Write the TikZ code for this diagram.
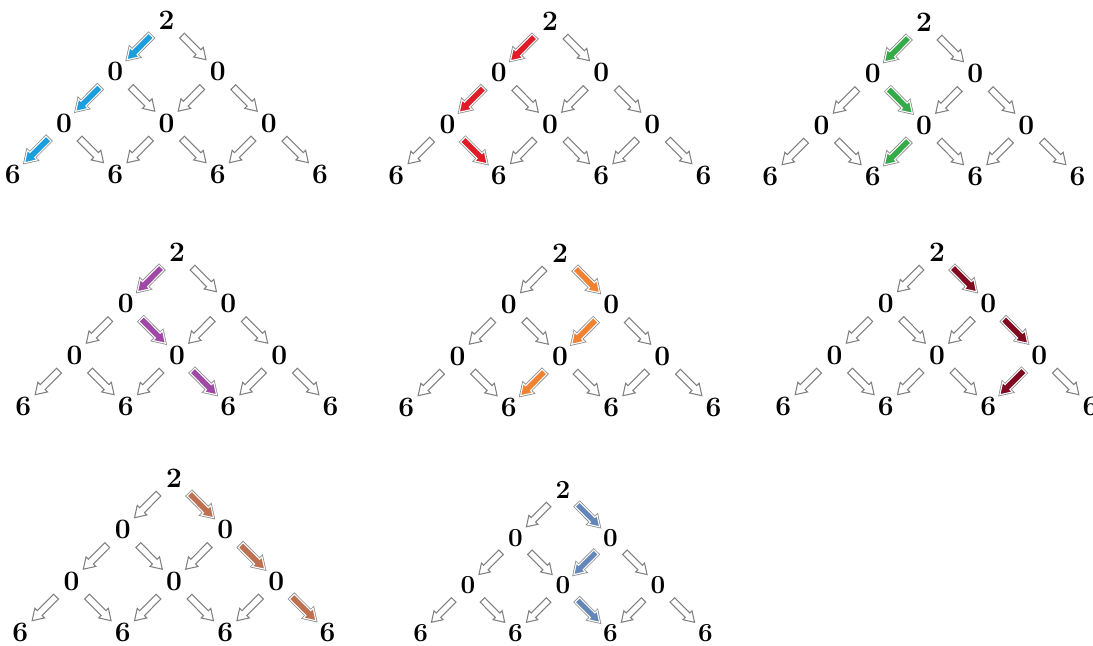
\documentclass[tikz,border=0pt]{standalone}
\usepackage{xcolor}
\usepackage{tikz}
\usetikzlibrary{shapes,arrows,positioning,calc}
\definecolor{routeblue}{RGB}{27,158,222}
\definecolor{routered}{RGB}{224,28,40}
\definecolor{routegreen}{RGB}{52,170,72}
\definecolor{routepurple}{RGB}{160,72,166}
\definecolor{routeorange}{RGB}{240,130,50}
\definecolor{routewine}{RGB}{128,10,32}
\definecolor{routecopper}{RGB}{190,112,80}
\definecolor{routesteel}{RGB}{100,135,185}

% one triangle: name, top position, scale, colour, highlighted steps r/k/d
\newcommand{\pathtri}[5]{%
  \begin{scope}[shift={#2}, scale=#3, transform shape]
    % Nodes
    \foreach \r/\t in {0/2,1/0,2/0,3/6}
      \foreach \k in {0,...,\r}
        \node[num] (#1-\r-\k) at ({(2*\k-\r)*51.2},{\r*51.5}) {\t};
    % Connections
    \foreach \r in {0,1,2}
      \foreach \k in {0,...,\r} {
        \pgfmathtruncatemacro{\rr}{\r+1}
        \pgfmathtruncatemacro{\kk}{\k+1}
        \path (#1-\r-\k) -- node[harrow]{} (#1-\rr-\k);
        \path (#1-\r-\k) -- node[harrow]{} (#1-\rr-\kk);
      }
    % Highlighted route
    \foreach \r/\k/\d in {#5} {
      \pgfmathtruncatemacro{\rr}{\r+1}
      \pgfmathtruncatemacro{\kk}{\k+\d}
      \path (#1-\r-\k) -- node[routearrow=#4]{} (#1-\rr-\kk);
    }
  \end{scope}}

\begin{document}
\begin{tikzpicture}[x=0.02cm, y=-0.02cm,
        num/.style={inner sep=1pt, font=\fontsize{16}{18}\selectfont\bfseries},
        harrow/.style={single arrow, draw=black!50, fill=white, line width=0.6pt, minimum height=0.68cm, inner xsep=0pt, inner ysep=0.058cm, single arrow head extend=0.068cm, single arrow tip angle=65, sloped, allow upside down, midway},
        routearrow/.style={harrow, fill=#1, draw=white, line width=0.6pt, preaction={draw=black!45, line width=1.5pt}}]

        \useasboundingbox (0,0) rectangle (1093,646);

        % Top row
        \pathtri{p1}{(166.5,20)}{1}{routeblue}{0/0/0, 1/0/0, 2/0/0}
        \pathtri{p2}{(550,21)}{1}{routered}{0/0/0, 1/0/0, 2/0/1}
        \pathtri{p3}{(924,22)}{1}{routegreen}{0/0/0, 1/0/1, 2/1/0}

        % Middle row
        \pathtri{p4}{(177,252)}{1}{routepurple}{0/0/0, 1/0/1, 2/1/1}
        \pathtri{p5}{(560,253)}{1}{routeorange}{0/0/1, 1/1/0, 2/1/0}
        \pathtri{p6}{(937,252)}{1}{routewine}{0/0/1, 1/1/1, 2/2/0}

        % Bottom row
        \pathtri{p7}{(174,478)}{1}{routecopper}{0/0/1, 1/1/1, 2/2/1}
        \pathtri{p8}{(563,490)}{0.927}{routesteel}{0/0/1, 1/1/0, 2/1/1}

    \end{tikzpicture}
\end{document}
